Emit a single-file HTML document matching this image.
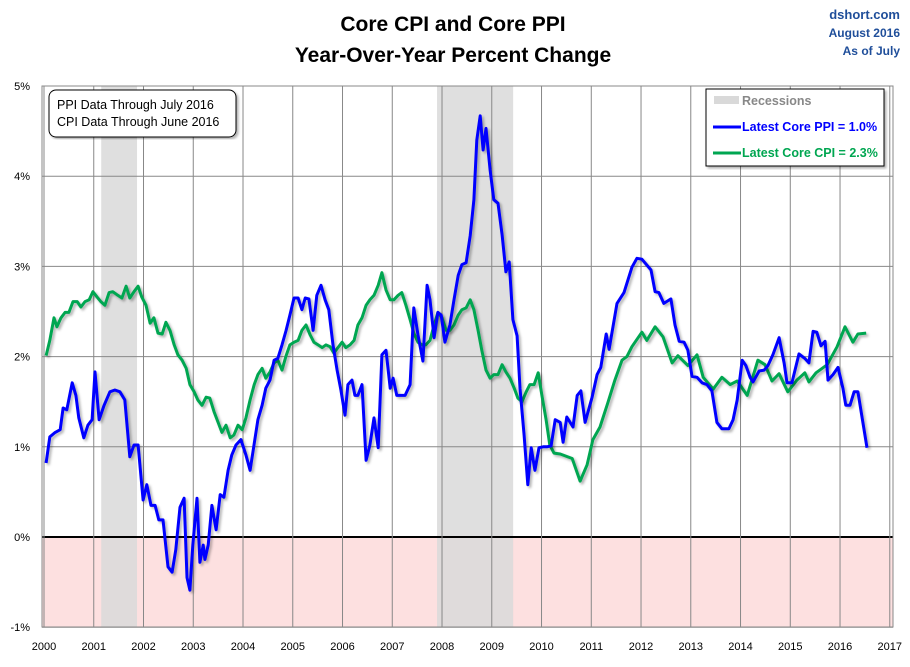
<!DOCTYPE html>
<html><head><meta charset="utf-8"><style>
body{margin:0;background:#fff;font-family:"Liberation Sans",sans-serif}
svg text{font-family:"Liberation Sans",sans-serif}
</style></head><body>
<svg id="chart" width="910" height="662" xmlns="http://www.w3.org/2000/svg">
<defs><filter id="sh" x="-5%" y="-5%" width="110%" height="110%"><feDropShadow dx="2" dy="2" stdDeviation="1.2" flood-color="#000" flood-opacity="0.3"/></filter></defs>
<rect width="910" height="662" fill="#fff"/>
<text x="453" y="31" text-anchor="middle" font-size="21" font-weight="bold">Core CPI and Core PPI</text>
<text x="453" y="62" text-anchor="middle" font-size="21" font-weight="bold">Year-Over-Year Percent Change</text>
<text x="900" y="19" text-anchor="end" font-size="13" font-weight="bold" fill="#1f4e9a">dshort.com</text>
<text x="900" y="37" text-anchor="end" font-size="12" font-weight="bold" fill="#1f4e9a">August 2016</text>
<text x="900" y="55" text-anchor="end" font-size="12" font-weight="bold" fill="#1f4e9a">As of July</text>
<g id="plot"></g>
</svg>
<script>
const recStart=[2001.15,2007.9];
const recEnd=[2001.87,2009.43];
const yTicks=[-1,0,1,2,3,4,5];
const xTicks=[2000,2001,2002,2003,2004,2005,2006,2007,2008,2009,2010,2011,2012,2013,2014,2015,2016,2017];
const ppiMonths=[0.5,1.4,2.7,3.9,4.6,5.5,6.8,7.7,8.4,9.6,10.6,11.6,12.3,13.3,14.5,15.9,17.1,18.3,19.5,20.7,21.7,22.7,23.9,24.8,25.8,26.8,27.7,28.7,29.9,30.9,31.8,32.8,33.8,34.5,35.2,35.9,36.9,37.6,38.4,38.8,39.6,40.5,41.5,42.5,43.4,44.4,45.3,46.3,47.5,48.7,49.7,51.6,52.6,53.5,54.5,55.5,56.4,57.4,58.4,59.3,60.3,61.3,62.2,63.0,63.9,64.9,65.8,66.8,67.8,68.7,69.7,70.7,71.6,72.6,73.3,74.3,75.0,75.7,76.7,77.7,78.6,79.6,80.6,81.5,82.5,83.5,84.2,85.1,86.1,87.1,88.3,89.2,90.2,91.4,92.4,93.1,94.1,95.0,95.8,96.7,97.9,98.9,99.9,100.8,101.8,102.8,103.7,104.4,105.2,105.9,106.6,107.6,108.5,109.5,110.5,111.4,112.2,113.1,114.1,114.8,115.8,116.7,117.5,118.4,119.4,120.4,121.3,122.3,123.3,124.5,125.2,126.1,127.6,128.6,129.5,130.5,132.2,133.4,134.3,135.6,136.3,138.2,139.9,141.8,143.0,144.2,146.4,147.4,148.3,149.5,151.2,152.2,153.2,154.4,155.3,156.3,157.5,158.7,159.9,161.1,162.3,163.5,165.2,166.2,167.2,168.4,169.3,170.3,171.0,172.5,173.7,174.6,175.8,177.3,178.5,179.2,180.4,182.1,183.5,184.5,185.5,186.4,187.4,188.4,189.1,190.3,191.5,192.7,193.4,194.4,195.4,196.3,198.5];
const ppiValues=[0.82,1.11,1.16,1.19,1.43,1.41,1.71,1.57,1.32,1.10,1.24,1.30,1.83,1.30,1.46,1.61,1.63,1.61,1.52,0.89,1.02,1.02,0.41,0.58,0.35,0.35,0.19,0.19,-0.33,-0.39,-0.14,0.33,0.43,-0.45,-0.59,-0.09,0.43,-0.28,-0.09,-0.25,-0.09,0.35,0.08,0.47,0.44,0.74,0.91,1.02,1.08,0.91,0.74,1.30,1.46,1.65,1.74,1.96,1.98,2.13,2.29,2.46,2.65,2.65,2.52,2.65,2.64,2.29,2.68,2.79,2.63,2.52,2.13,1.85,1.63,1.35,1.69,1.74,1.57,1.57,1.69,0.85,1.02,1.32,0.99,2.02,2.07,1.65,1.76,1.57,1.57,1.57,1.69,2.54,2.24,1.95,2.79,2.63,2.21,2.49,2.46,2.16,2.35,2.63,2.90,3.02,3.04,3.34,3.74,4.40,4.67,4.29,4.53,4.07,3.74,3.70,3.35,2.94,3.05,2.41,2.23,1.65,1.13,0.58,0.99,0.74,0.99,1.00,1.00,1.01,1.30,1.27,1.05,1.33,1.22,1.57,1.62,1.27,1.55,1.80,1.88,2.25,2.08,2.59,2.71,2.99,3.09,3.08,2.96,2.72,2.71,2.59,2.64,2.35,2.17,2.16,2.07,1.78,1.77,1.71,1.69,1.62,1.27,1.20,1.20,1.30,1.52,1.96,1.90,1.77,1.72,1.84,1.85,1.90,2.02,2.21,1.93,1.71,1.71,2.03,1.98,1.93,2.28,2.27,2.12,2.17,1.74,1.80,1.88,1.65,1.46,1.46,1.61,1.61,0.99];
const cpiMonths=[0.5,1.4,2.4,3.1,4.1,5.1,6.0,7.0,8.0,8.9,9.9,10.9,11.8,12.8,13.7,14.7,15.7,16.6,17.8,18.8,19.8,20.7,21.7,22.7,23.6,24.6,25.6,26.5,27.5,28.5,29.4,30.4,31.4,32.3,33.3,34.3,35.2,36.2,37.1,38.1,39.1,40.0,41.0,42.0,42.9,43.9,44.9,45.8,46.8,47.8,48.7,49.7,50.7,51.6,52.6,53.5,54.5,55.5,56.4,57.4,58.4,59.3,60.3,61.3,62.2,63.2,64.2,65.1,66.1,67.1,68.0,69.0,69.9,70.9,71.9,72.8,73.8,74.8,75.7,76.7,77.7,78.6,79.6,80.6,81.5,82.5,83.5,84.4,85.4,86.3,87.3,88.3,89.2,90.2,91.2,92.1,93.1,94.1,95.0,96.0,97.0,97.9,98.9,99.9,100.8,101.8,102.8,103.7,104.7,105.6,106.6,107.6,108.5,109.5,110.5,111.4,112.4,113.4,114.3,115.3,116.3,117.2,118.2,119.2,120.1,121.1,122.0,123.0,124.5,127.4,129.3,131.0,132.4,134.1,136.0,137.7,139.4,140.6,141.8,144.2,145.4,147.4,149.3,151.5,152.9,155.3,157.5,159.0,161.4,163.5,165.5,167.2,169.6,172.2,173.9,175.6,177.3,179.4,181.6,183.5,184.5,186.2,188.9,191.3,193.2,195.1,196.3,198.3];
const cpiValues=[2.01,2.18,2.43,2.33,2.43,2.49,2.49,2.61,2.61,2.55,2.61,2.63,2.72,2.66,2.61,2.57,2.71,2.72,2.68,2.65,2.78,2.65,2.72,2.78,2.66,2.57,2.37,2.43,2.26,2.25,2.38,2.29,2.13,2.02,1.96,1.87,1.69,1.61,1.52,1.46,1.55,1.54,1.39,1.27,1.16,1.24,1.10,1.13,1.24,1.19,1.32,1.52,1.69,1.80,1.87,1.76,1.83,1.93,1.96,1.85,2.01,2.13,2.16,2.18,2.29,2.35,2.24,2.16,2.13,2.10,2.13,2.11,2.04,2.10,2.16,2.10,2.13,2.18,2.35,2.43,2.57,2.63,2.68,2.79,2.93,2.74,2.63,2.63,2.68,2.71,2.57,2.41,2.26,2.16,2.13,2.13,2.18,2.35,2.49,2.43,2.29,2.29,2.35,2.46,2.52,2.54,2.63,2.52,2.29,2.07,1.85,1.76,1.80,1.80,1.91,1.83,1.76,1.65,1.54,1.50,1.61,1.69,1.69,1.82,1.57,1.30,1.02,0.93,0.92,0.87,0.62,0.80,1.08,1.22,1.49,1.74,1.96,2.00,2.11,2.27,2.18,2.33,2.22,1.93,2.01,1.90,2.02,1.77,1.64,1.77,1.69,1.73,1.57,1.96,1.91,1.73,1.81,1.61,1.74,1.82,1.72,1.82,1.91,2.11,2.33,2.16,2.25,2.26];

const NS='http://www.w3.org/2000/svg';
const L=42,R=893,T=86,B=627;
function xs(m){return 44+4.146*m;}
function xy(yr){return xs((yr-2000)*12);}
function ys(v){return 537-90.2*v;}
const g=document.getElementById('plot');
function mk(tag,attrs,parent){const e=document.createElementNS(NS,tag);for(const k in attrs)e.setAttribute(k,attrs[k]);(parent||g).appendChild(e);return e;}

let e=mk('rect',{x:L,y:ys(0),width:R-L,height:B-ys(0),fill:'#fde0e0'});


for(let i=0;i<recStart.length;i++){
  e=mk('rect',{x:xy(recStart[i]),y:T,width:xy(recEnd[i])-xy(recStart[i]),height:B-T,fill:'#d9d9d9','fill-opacity':0.85});
  
  
}
yTicks.forEach(t=>{
  e=mk('line',{x1:L,x2:R,y1:ys(t),y2:ys(t),stroke:t===0?'#000':'#888','stroke-width':t===0?2:1});
  
  
  e=mk('text',{x:30,y:ys(t)+4,'text-anchor':'end','font-size':11});
  e.textContent=t+'%';
  
  
});
xTicks.forEach(t=>{
  e=mk('line',{x1:xy(t),x2:xy(t),y1:T,y2:B,stroke:'#888','stroke-width':1});
  
  
  e=mk('text',{x:xy(t),y:650,'text-anchor':'middle','font-size':11});
  e.textContent=t;
  
  
});
e=mk('rect',{x:L,y:T,width:R-L,height:B-T,fill:'none',stroke:'#888'});



function line(ms,vs,color,name){
  const d=ms.map((m,i)=>(i?'L':'M')+xs(m).toFixed(1)+','+ys(vs[i]).toFixed(1)).join('');
  const p=mk('path',{d:d,fill:'none',stroke:color,'stroke-width':3,'stroke-linejoin':'round',filter:'url(#sh)'});
  
  
}
line(cpiMonths,cpiValues,'#00a651','core-cpi-line');
line(ppiMonths,ppiValues,'#0000ff','core-ppi-line');

e=mk('rect',{x:49,y:90,width:187,height:47,rx:7,fill:'#fff',stroke:'#000',filter:'url(#sh)'});


e=mk('text',{x:57,y:109,'font-size':12.5});
e.textContent='PPI Data Through July 2016';


e=mk('text',{x:57,y:126,'font-size':12.5});
e.textContent='CPI Data Through June 2016';



e=mk('rect',{x:706,y:89,width:178,height:77,fill:'#fff',stroke:'#000',filter:'url(#sh)'});


e=mk('rect',{x:714,y:96,width:25,height:8,fill:'#d9d9d9'});


e=mk('text',{x:742,y:105,'font-size':12.5,fill:'#888','font-weight':'bold'});
e.textContent='Recessions';


e=mk('line',{x1:713,x2:741,y1:127,y2:127,stroke:'#0000ff','stroke-width':3});


e=mk('text',{x:742,y:131,'font-size':12.5,fill:'#0000ff','font-weight':'bold'});
e.textContent='Latest Core PPI = 1.0%';


e=mk('line',{x1:713,x2:741,y1:153,y2:153,stroke:'#00a651','stroke-width':3});


e=mk('text',{x:742,y:157,'font-size':12.5,fill:'#00a651','font-weight':'bold'});
e.textContent='Latest Core CPI = 2.3%';


</script>
</body></html>
